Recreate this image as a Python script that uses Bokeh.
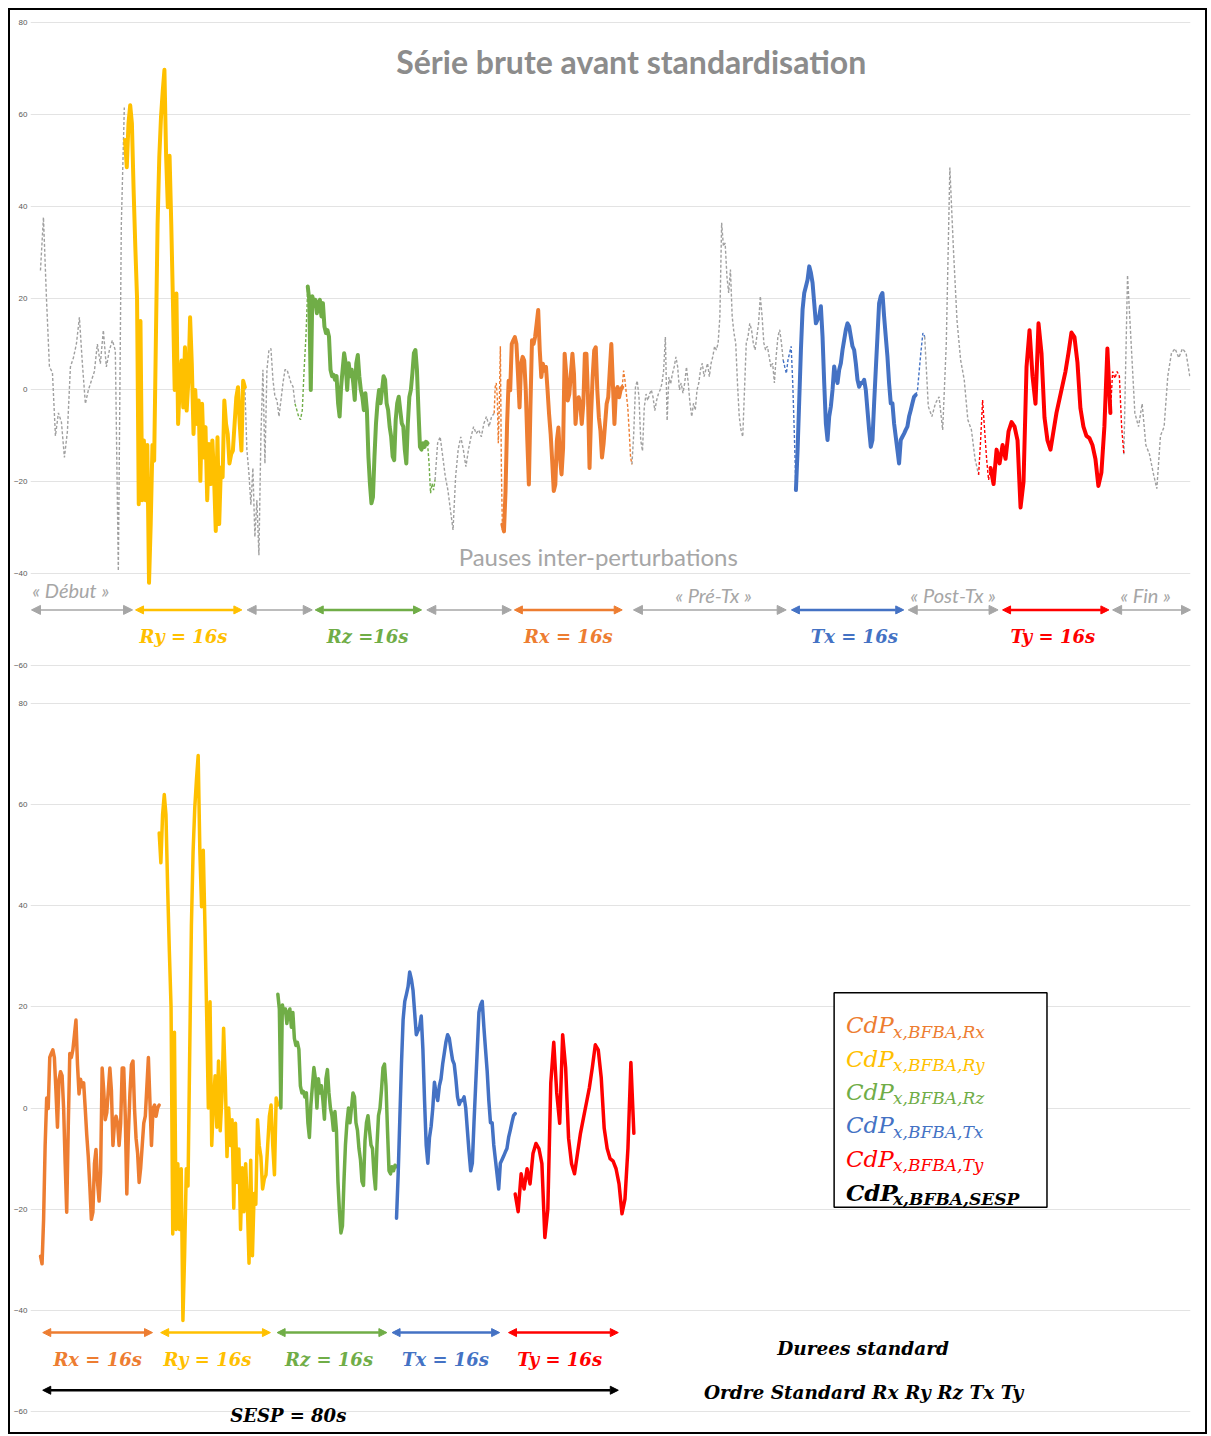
from bokeh.plotting import figure
from bokeh.models import Label, Arrow, NormalHead, BoxAnnotation, FixedTicker, Range1d
from bokeh.layouts import column
from bokeh.embed import file_html
from bokeh.resources import INLINE

# ---------------- data ----------------
# perturbation segments (16 s each)
rx_vals = [-29.3, -30.8, -22, -7.4, 2, -0.1, 10, 10.8, 11.5, 10, 3.5, -3.8, 5.7, 7.2, 6.4, 0, -11, -20.6, -3.8,
           10.8, 10, 11.5, 14.4, 17.4, 8.6, 2.8, 5.7, 4.2, 5, 0, -5.3, -9.6, -15.5, -22, -20.6, -11, -8.2, -14.7,
           -18.4, -12.6, 7.9, 3.6, -2.3, -0.9, 3.5, 7.9, 3.5, -7.4, -3, -1.6, -3, -7.4, -3, 7.9, 7.9, -1.6, -17,
           -5.3, 2.8, 8.6, 9.3, -0.1, -6, -8.9, -14.7, -11.8, -7.4, -3, -1.6, 4.2, 10, 1.3, -7.4, -0.1, 0.6,
           -1.6, 0, 0.6]
ry_vals = [54.4, 48.5, 58, 62, 58, 43.5, 31, 20, -24.9, 15, -24, -11, -24, -12, -42, -29, -12, -15.4, 10.8, 36,
           50.7, 59.4, 65, 69.7, 50.7, 39.8, 51, 36, 18.7, 0, 21, -7.4, 1.3, 6.4, -3.8, 9.3, -4.5, 2, 15.8, 5.7,
           -9.6, 0, -7.4, -2.3, -19.8, -3, -14.7, -8.1, -24, -11.8, -20.5, -11, -19, -30.7, -10.3, -29.2, -16.9,
           -19, -2.3, -7.4, -9.6, -16, -14, -13.2, -7.4, -1.6, 0.6, -7.4, -13.2, 2, 0.6]
rz_vals = [22.5, 19.6, 0, 20.4, 18.9, 19.6, 16.7, 18.9, 19.6, 16, 18.9, 13.8, 12.4, 13, 11.6, 4.4, 3, 3.3, 2.2, 3,
           -2.9, -5.8, 0.7, 4.4, 8, 5.8, 0, 5.8, 3, 4.4, 1.5, -2.2, 5.8, 7.6, 3, 0, -1.5, -4.4, -0.7, -4.4, -14.5,
           -20.4, -24.7, -23.3, -14.5, -7.3, -2.9, 0, -2.9, 0, 3, 2.2, -2.9, -4.4, -8, -10.2, -14.5, -15.3, -6.5,
           -2.9, -1.5, -4.4, -7.3, -8, -13, -16, -7.3, -1.5, 0, 3.6, 8, 8.7, 4.4, -4.4, -12.4, -13, -11.6, -12.4,
           -11.3, -11.6]
tx_vals = [-21.8, -13.1, -2.2, 8.7, 17.5, 21.1, 22.5, 24, 26.9, 25.5, 23.3, 18.9, 14.5, 15.3, 16, 18.2, 11.6, 1.5,
           -7.3, -10.9, -5.8, -3.6, 0, 5.1, 2.9, 1.5, 4.4, 5.8, 8.7, 10.9, 13.1, 14.5, 13.8, 11.6, 9.5, 8.7, 5.8,
           2.2, 0.7, 1.5, 1.5, 2.2, 0, -4.4, -8.7, -12.4, -10.9, -2.9, 4.4, 11.6, 18.9, 20.4, 21.1, 16, 11.6, 7.3,
           1.5, -2.9, -2.9, -7.3, -10.2, -13.1, -16, -10.9, -10.2, -9.5, -8.7, -8, -5.8, -4.4, -2.9, -1.5, -1.1]
ty_vals = [-17, -20.5, -13, -16, -12, -15, -9, -7, -8, -11, -25.6, -20, 5, 13, 3, -3, 14.5, 8, -6, -11, -13, -9,
           -5, -2, 1, 4, 8, 12.5, 11.5, 6, -4, -8, -10, -10.5, -12, -15, -20.9, -18, -8, 9, -5]

seg_names = ["Rx", "Ry", "Rz", "Tx", "Ty"]
seg_values = [rx_vals, ry_vals, rz_vals, tx_vals, ty_vals]
seg_colors = ["#ED7D31", "#FFC000", "#70AD47", "#4472C4", "#FF0000"]
seg_duration = 16
top_seg_start = [61.7, 11.3, 35.7, 100.9, 126.9]      # raw series (s)
std_seg_start = [0, 16, 32, 48, 64]                   # standardised order Rx Ry Rz Tx Ty

# pauses (grey dashed) in the raw series: (start s, end s, values)
pause_debut = [26, 37.6, 20, 5, 3.8, -10, -5, -7, -14.7, -9, 5, 7, 10, 15.8, 5.7, -3, 0, 2, 4, 10, 5.7, 13, 5,
               8.6, 10.8, 8.6, -39.4, 36, 61.5]
pause_2 = [0.6, -13, -18, -25, -17, -32, -24, -36, -10, 4.4, -16, 4.4, 8.7, 9, 2.2, -1.5, -2.2, -5.8, -2.2,
           1.5, 4.4, 4.4, 3, 1.5, 0.7, -3]
pause_3 = [-19.6, -11.6, -10.2, -14.5, -18.9, -21.8, -26.2, -30.5, -18.9, -13, -10.2, -13, -16.7, -13, -10.2,
           -8, -9.5, -8.7, -10.2, -7.3, -5.8, -8, -5.8, -5.1]
pause_pretx = [-16.2, -9.6, 0.6, 2, -1.6, -11, -13.3, -3.8, -0.9, -2.3, -0.9, 0, -1.6, -4.5, -2.3, -0.9, 0, 1.3,
               4.2, 11.5, -6.7, 2.8, 1.3, 3.5, 5, 7.2, 5, 0, 1.5, -0.7, 1.5, 5, 1.5, -2.9, -5.8, -2.9, -4.4, 0,
               1.5, 4.4, 5.8, 2.9, 4.4, 5.8, 2.9, 5.8, 7.3, 9.5, 8.7, 10.2, 16, 36.4, 31.3, 32, 24.7, 21.1, 26.2,
               16, 12.4, 10.2, 1.5, -5.8, -8.7, -10.2, 0, 10.2, 11.6, 14.5, 13.1, 10.2, 8.7, 11.6, 14.5, 20.4, 16,
               10.2, 8.7, 9.5, 7.3, 5, 5.8, 1.5, 7.3, 11.6, 13.1, 10.2, 6.5]
pause_posttx = [11.6, -3.6, -5.8, -2.9, -1.5, -8.7, 10, 48.4, 30.5, 15, 6.5, 2.2, -6.5, -8.7, -15, -18.5]
pause_fin = [-14, 25, 10, -5, -8, -3, -12, -14, -18, -21.5, -10, -8, 3, 8, 9, 7, 9, 8, 3]
pause_series = [(0.0, 11.2, pause_debut), (27.3, 34.0, pause_2), (52.7, 60.6, pause_3),
                (79.0, 99.2, pause_pretx), (118.1, 125.3, pause_posttx), (144.7, 153.5, pause_fin)]

# thin coloured dashed transitions around the segments: (start s, end s, values, colour index)
rz_pre = [-3, -4.4, -5.8, -6.5, -4.4, 4.4, 11.6, 22.5]
rz_post = [-11.6, -16, -22.5, -20.4, -21.8, -19.6]
rx_pre = [-5.1, 0.7, 1.5, -1.5, -11.6, -2.9, 9.5, -17.5, -30.5]
rx_post = [0.6, 4.2, 2, -0.9, -3.8, -8.9, -14.7, -16.2]
tx_pre = [6.5, 5, 3.6, 6.5, 8, 9.5, 1.5, -9.5, -21.8]
tx_post = [-1.1, 0, 4.4, 8.7, 12.4, 11.6]
ty_pre = [-18.5, -11, -2.2, -8.7, -15, -19.6, -17]
ty_post = [-5, 4, 2.5, 4, 3, -8, -14]
transition_series = [(34.0, 35.7, rz_pre, 2), (51.7, 52.7, rz_post, 2), (60.6, 61.7, rx_pre, 0),
                     (77.7, 79.0, rx_post, 0), (99.2, 100.9, tx_pre, 3), (116.9, 118.1, tx_post, 3),
                     (125.3, 126.9, ty_pre, 4), (142.9, 144.7, ty_post, 4)]

y_ticks = [-60, -40, -20, 0, 20, 40, 60, 80]

# duration arrows of the raw series (start s, end s, colour)
top_arrow_start = [-1.2, 12.7, 27.6, 36.7, 51.6, 63.3, 79.2, 100.3, 115.9, 128.5, 143.2]
top_arrow_end = [12.3, 26.9, 36.3, 50.9, 62.9, 77.7, 99.6, 115.3, 127.9, 142.7, 153.6]
top_arrow_color = ["#A6A6A6", "#FFC000", "#A6A6A6", "#70AD47", "#A6A6A6", "#ED7D31", "#A6A6A6", "#4472C4",
                   "#A6A6A6", "#FF0000", "#A6A6A6"]
top_seg_labels = ["Ry = 16s", "Rz =16s", "Rx = 16s", "Tx = 16s", "Ty = 16s"]
top_seg_label_x = [19.1, 43.7, 70.5, 108.7, 135.2]
top_seg_label_color = ["#FFC000", "#70AD47", "#ED7D31", "#4472C4", "#FF0000"]
pause_labels = ["« Début »", "« Pré-Tx »", "« Post-Tx »", "« Fin »"]
pause_label_x = [-1.1, 89.9, 121.9, 147.6]
pause_label_y = [-43.6, -44.7, -44.7, -44.7]
pause_label_align = ["left", "center", "center", "center"]

std_arrow_start = [0.3, 16.2, 31.9, 47.4, 63.1]
std_arrow_end = [15.1, 31.0, 46.7, 61.9, 77.9]
std_labels = ["Rx = 16s", "Ry = 16s", "Rz = 16s", "Tx = 16s", "Ty = 16s"]
std_label_x = [7.7, 22.5, 38.9, 54.6, 70.0]

legend_main = ["CdP", "CdP", "CdP", "CdP", "CdP", "CdP"]
legend_sub = ["x,BFBA,Rx", "x,BFBA,Ry", "x,BFBA,Rz", "x,BFBA,Tx", "x,BFBA,Ty", "x,BFBA,SESP"]
legend_color = ["#ED7D31", "#FFC000", "#70AD47", "#4472C4", "#FF0000", "#000000"]
legend_y = [16.4, 9.8, 3.2, -3.4, -10.0, -16.6]

GREY = "#A0A0A0"
SERIF = "DejaVu Serif"


def times(t0, t1, n):
    return [t0 + (t1 - t0) * i / (n - 1) for i in range(n)]


def style_fig(p, ticks):
    p.yaxis.ticker = FixedTicker(ticks=ticks)
    p.yaxis.axis_line_color = None
    p.yaxis.major_tick_line_color = None
    p.yaxis.minor_tick_line_color = None
    p.yaxis.major_tick_out = 0
    p.yaxis.major_tick_in = 0
    p.yaxis.major_label_text_font_size = "8px"
    p.yaxis.major_label_text_color = "#595959"
    p.yaxis.major_label_standoff = 3
    p.ygrid.grid_line_color = "#E3E3E3"
    p.ygrid.grid_line_width = 1
    p.xgrid.visible = False
    p.outline_line_color = None
    p.background_fill_color = "white"
    p.border_fill_color = "white"


def add_arrow(p, x0, x1, y, color, width, size):
    p.add_layout(Arrow(x_start=x0, y_start=y, x_end=x1, y_end=y, line_color=color, line_width=width,
                       start=NormalHead(size=size, fill_color=color, line_color=color),
                       end=NormalHead(size=size, fill_color=color, line_color=color)))


# ---------------- top figure: raw series ----------------
p1 = figure(width=1195, height=680, output_backend="svg", toolbar_location=None,
            x_range=Range1d(-1.33, 153.6), y_range=Range1d(-61.09, 80.87),
            x_axis_location=None, min_border_left=18, min_border_right=15,
            min_border_top=8, min_border_bottom=20)
style_fig(p1, y_ticks)

for t0, t1, vals in pause_series:
    p1.line(times(t0, t1, len(vals)), vals, line_color=GREY, line_width=1.4, line_dash="3 2")
for t0, t1, vals, ci in transition_series:
    p1.line(times(t0, t1, len(vals)), vals, line_color=seg_colors[ci], line_width=1.4, line_dash="3 2")
for vals, t0, col in zip(seg_values, top_seg_start, seg_colors):
    p1.line(times(t0, t0 + seg_duration, len(vals)), vals, line_color=col, line_width=4,
            line_join="round", line_cap="round")

for x0, x1, col in zip(top_arrow_start, top_arrow_end, top_arrow_color):
    if col == "#A6A6A6":
        add_arrow(p1, x0, x1, -47.9, col, 1.5, 9)
    else:
        add_arrow(p1, x0, x1, -47.9, col, 2.5, 8)

for txt, x, col in zip(top_seg_labels, top_seg_label_x, top_seg_label_color):
    p1.add_layout(Label(x=x, y=-53.6, text=txt, text_font=SERIF, text_font_style="bold italic",
                        text_font_size="18px", text_color=col, text_align="center", text_baseline="middle"))
for txt, x, y, al in zip(pause_labels, pause_label_x, pause_label_y, pause_label_align):
    p1.add_layout(Label(x=x, y=y, text=txt, text_font="Lato", text_font_style="italic",
                        text_font_size="20px", text_color="#A6A6A6", text_align=al,
                        text_baseline="middle"))
p1.add_layout(Label(x=74.5, y=-36.2, text="Pauses inter-perturbations", text_font="Lato",
                    text_font_size="24px", text_color="#A6A6A6", text_align="center", text_baseline="middle"))
p1.add_layout(Label(x=78.9, y=71.5, text="Série brute avant standardisation", text_font="Lato",
                    text_font_style="bold", text_font_size="32px", text_color="#8C8C8C",
                    text_align="center", text_baseline="middle"))

# ---------------- bottom figure: standardised series ----------------
p2 = figure(width=1195, height=742, output_backend="svg", toolbar_location=None,
            x_range=Range1d(-1.35, 155.05), y_range=Range1d(-63.76, 80.99),
            x_axis_location=None, min_border_left=18, min_border_right=15,
            min_border_top=8, min_border_bottom=2)
style_fig(p2, y_ticks)

for vals, t0, col in zip(seg_values, std_seg_start, seg_colors):
    p2.line(times(t0, t0 + seg_duration, len(vals)), vals, line_color=col, line_width=3.5,
            line_join="round", line_cap="round")

for x0, x1, col in zip(std_arrow_start, std_arrow_end, seg_colors):
    add_arrow(p2, x0, x1, -44.4, col, 2.5, 8)
add_arrow(p2, std_arrow_start[0], std_arrow_end[-1], -55.8, "#000000", 2.5, 8)

for txt, x, col in zip(std_labels, std_label_x, seg_colors):
    p2.add_layout(Label(x=x, y=-49.7, text=txt, text_font=SERIF, text_font_style="bold italic",
                        text_font_size="18px", text_color=col, text_align="center", text_baseline="middle"))
p2.add_layout(Label(x=33.4, y=-60.8, text="SESP = 80s", text_font=SERIF, text_font_style="bold italic",
                    text_font_size="18px", text_color="#000000", text_align="center", text_baseline="middle"))
p2.add_layout(Label(x=110.9, y=-47.5, text="Durees standard", text_font=SERIF, text_font_style="bold italic",
                    text_font_size="18.5px", text_color="#000000", text_align="center", text_baseline="middle"))
p2.add_layout(Label(x=111.4, y=-56.2, text="Ordre Standard  Rx Ry Rz Tx Ty", text_font=SERIF,
                    text_font_style="bold italic", text_font_size="18.5px", text_color="#000000",
                    text_align="center", text_baseline="middle"))

p2.add_layout(BoxAnnotation(left=107.0, right=135.7, top=22.8, bottom=-19.6, fill_color="white",
                            fill_alpha=1.0, line_color="#000000", line_alpha=1.0, line_width=1.5,
                            level="underlay"))
for i, (m, s, col, y) in enumerate(zip(legend_main, legend_sub, legend_color, legend_y)):
    style = "bold italic" if i == len(legend_main) - 1 else "italic"
    p2.add_layout(Label(x=108.6, y=y, text=m, text_font=SERIF, text_font_style=style,
                        text_font_size="23px", text_color=col, text_align="left", text_baseline="alphabetic"))
    p2.add_layout(Label(x=108.6, y=y - 1.3, x_offset=47, text=s, text_font=SERIF, text_font_style=style,
                        text_font_size="17px", text_color=col, text_align="left", text_baseline="alphabetic"))

layout = column(p1, p2, margin=(8, 0, 0, 8), styles={"border": "2px solid #000000"})
open("out.html", "w").write(file_html(layout, INLINE))
